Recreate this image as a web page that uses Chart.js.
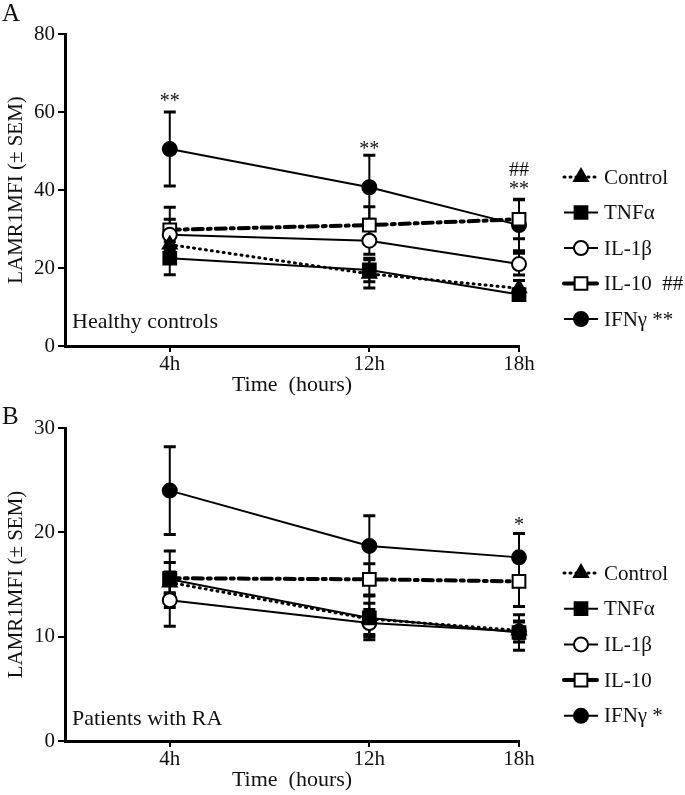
<!DOCTYPE html>
<html>
<head>
<meta charset="utf-8">
<script src="https://cdn.jsdelivr.net/npm/chart.js@4.4.1/dist/chart.umd.min.js"></script>
<style>
  html, body { margin: 0; padding: 0; background: #fff; }
  .panel { position: relative; width: 685px; }
  #panelA { height: 400px; }
  #panelB { height: 395px; }
</style>
</head>
<body>
<div class="panel" id="panelA"><canvas id="chartA"></canvas></div>
<div class="panel" id="panelB"><canvas id="chartB"></canvas></div>
<script>
var hours = [4, 12, 18];
var seriesNames = ['Control', 'TNFα', 'IL-1β', 'IL-10', 'IFNγ'];

// A: healthy controls
var hcControl = [26, 18.5, 14.8];
var hcControlSem = [3.5, 3.6, 2];
var hcTnf = [22.5, 19.5, 13.2];
var hcTnfSem = [4.2, 3, 1.5];
var hcIl1b = [28.5, 27, 21];
var hcIl1bSem = [4, 3.5, 2.8];
var hcIl10 = [29.8, 31, 32.5];
var hcIl10Sem = [5.8, 4.7, 5];
var hcIfng = [50.5, 40.7, 31];
var hcIfngSem = [9.5, 8.2, 6.6];
var hcTicks = [0, 20, 40, 60, 80];
var hcTags = ['', '', '', ' ##', '**'];
var hcMarks = [[4, 63.6, '**'], [12, 51.3, '**'], [18, 45.9, '##'], [18, 41, '**']];

// B: patients with RA
var raControl = [15.2, 11.7, 10.6];
var raControlSem = [1.0, 1.5, 0.8];
var raTnf = [15.5, 11.8, 10.4];
var raTnfSem = [2.7, 2.1, 1.7];
var raIl1b = [13.5, 11.3, 10.5];
var raIl1bSem = [2.5, 1.3, 1.0];
var raIl10 = [15.6, 15.5, 15.3];
var raIl10Sem = [1.5, 1.5, 2.4];
var raIfng = [24, 18.7, 17.6];
var raIfngSem = [4.2, 2.9, 2.3];
var raTicks = [0, 10, 20, 30];
var raTags = ['', '', '', '', '*'];
var raMarks = [[18, 21, '*']];

var FONT = '"Liberation Serif", "Times New Roman", serif';
var INK = '#111';

var seriesStyles = [
  { pointStyle: 'triangle', radius: 8, fill: '#000', dash: [1, 5], width: 3 },
  { pointStyle: 'rect', radius: 9, fill: '#000', dash: [], width: 2 },
  { pointStyle: 'circle', radius: 7, fill: '#fff', dash: [], width: 2 },
  { pointStyle: 'rect', radius: 9, fill: '#fff', dash: [10, 5, 3, 5], width: 4 },
  { pointStyle: 'circle', radius: 7, fill: '#000', dash: [], width: 2 }
];

function makePanel(canvasId, p) {
  var datasets = p.means.map(function (vals, i) {
    var st = seriesStyles[i];
    return {
      label: seriesNames[i],
      data: hours.map(function (h, j) { return { x: h, y: vals[j] }; }),
      borderColor: '#000',
      borderWidth: st.width,
      borderDash: st.dash,
      borderCapStyle: st.dash.length ? 'round' : 'butt',
      pointStyle: st.pointStyle,
      pointRadius: st.radius,
      pointBackgroundColor: st.fill,
      pointBorderColor: '#000',
      pointBorderWidth: 2,
      tension: 0,
      fill: false,
      clip: false
    };
  });

  var errorBars = {
    id: 'errorBars',
    beforeDatasetsDraw: function (chart) {
      var xs = chart.scales.x, ys = chart.scales.y, ctx = chart.ctx;
      ctx.save();
      ctx.strokeStyle = '#000';
      p.sems.forEach(function (sem, i) {
        sem.forEach(function (e, j) {
          var x = xs.getPixelForValue(hours[j]);
          var top = ys.getPixelForValue(p.means[i][j] + e);
          var bot = ys.getPixelForValue(p.means[i][j] - e);
          ctx.lineWidth = 2;
          ctx.beginPath(); ctx.moveTo(x, top); ctx.lineTo(x, bot); ctx.stroke();
          ctx.lineWidth = 3;
          ctx.beginPath();
          ctx.moveTo(x - 6, top); ctx.lineTo(x + 6, top);
          ctx.moveTo(x - 6, bot); ctx.lineTo(x + 6, bot);
          ctx.stroke();
        });
      });
      ctx.restore();
    }
  };

  var extras = {
    id: 'extras',
    afterDraw: function (chart) {
      var xs = chart.scales.x, ys = chart.scales.y, ctx = chart.ctx;
      ctx.save();
      ctx.fillStyle = INK;
      ctx.textBaseline = 'alphabetic';
      ctx.textAlign = 'left';
      ctx.font = '25px ' + FONT;
      ctx.fillText(p.letter, 2, p.letterY);
      ctx.font = '22px ' + FONT;
      ctx.fillText(p.caption, 72, p.captionY);

      // significance marks
      ctx.textAlign = 'center';
      ctx.textBaseline = 'middle';
      ctx.font = '20px ' + FONT;
      p.marks.forEach(function (m) {
        ctx.fillText(m[2], xs.getPixelForValue(m[0]), ys.getPixelForValue(m[1]) + 4);
      });

      // legend
      chart.data.datasets.forEach(function (ds, i) {
        var y = p.legendTop + i * p.legendGap;
        ctx.save();
        ctx.strokeStyle = '#000';
        ctx.lineWidth = ds.borderWidth;
        ctx.setLineDash(ds.borderDash);
        ctx.lineCap = ds.borderCapStyle;
        ctx.beginPath(); ctx.moveTo(564, y); ctx.lineTo(598, y); ctx.stroke();
        ctx.setLineDash([]);
        ctx.fillStyle = ds.pointBackgroundColor;
        ctx.strokeStyle = '#000';
        ctx.lineWidth = 2;
        Chart.helpers.drawPoint(ctx, {
          pointStyle: ds.pointStyle, radius: ds.pointRadius, rotation: 0, borderWidth: 2
        }, 581, y);
        ctx.restore();
        ctx.fillStyle = INK;
        ctx.textAlign = 'left';
        ctx.textBaseline = 'middle';
        ctx.font = '21px ' + FONT;
        var label = ds.label + (p.tags[i] ? ' ' + p.tags[i] : '');
        ctx.fillText(label, 604, y + 1);
      });
      ctx.restore();
    }
  };

  return new Chart(document.getElementById(canvasId), {
    type: 'line',
    data: { datasets: datasets },
    options: {
      responsive: true,
      maintainAspectRatio: false,
      animation: false,
      layout: { padding: { top: p.padTop, left: 0, right: 166, bottom: 0 } },
      plugins: { legend: { display: false }, tooltip: { enabled: false } },
      scales: {
        x: {
          type: 'linear', min: -0.2, max: 18,
          afterBuildTicks: function (s) { s.ticks = hours.map(function (v) { return { value: v }; }); },
          afterFit: function (s) { s.height = 54; },
          grid: { display: true, drawOnChartArea: false, drawTicks: true, tickLength: 6, color: '#000', lineWidth: 2 },
          border: { display: true, color: '#000', width: 3 },
          ticks: { color: INK, font: { family: FONT, size: 21 }, padding: 0, maxRotation: 0,
            callback: function (v) { return v + 'h'; } },
          title: { display: true, text: 'Time  (hours)', color: INK,
            font: { family: FONT, size: 22 }, padding: { top: 2, bottom: 2 } }
        },
        y: {
          min: 0, max: p.ticks[p.ticks.length - 1],
          afterBuildTicks: function (s) { s.ticks = p.ticks.map(function (v) { return { value: v }; }); },
          afterFit: function (s) { s.width = 65; },
          grid: { display: true, drawOnChartArea: false, drawTicks: true, tickLength: 7, color: '#000', lineWidth: 2 },
          border: { display: true, color: '#000', width: 3 },
          ticks: { color: INK, font: { family: FONT, size: 21 }, padding: 3 },
          title: { display: true, text: 'LAMR1MFI (± SEM)', color: INK,
            font: { family: FONT, size: 21 }, padding: { top: 4, bottom: 4 } }
        }
      }
    },
    plugins: [errorBars, extras]
  });
}

makePanel('chartA', {
  means: [hcControl, hcTnf, hcIl1b, hcIl10, hcIfng],
  sems: [hcControlSem, hcTnfSem, hcIl1bSem, hcIl10Sem, hcIfngSem],
  ticks: hcTicks, tags: hcTags, marks: hcMarks,
  letter: 'A', letterY: 21, caption: 'Healthy controls', captionY: 328,
  padTop: 34, legendTop: 177, legendGap: 35.5
});

makePanel('chartB', {
  means: [raControl, raTnf, raIl1b, raIl10, raIfng],
  sems: [raControlSem, raTnfSem, raIl1bSem, raIl10Sem, raIfngSem],
  ticks: raTicks, tags: raTags, marks: raMarks,
  letter: 'B', letterY: 24, caption: 'Patients with RA', captionY: 325,
  padTop: 28, legendTop: 173, legendGap: 35.7
});
</script>
</body>
</html>
